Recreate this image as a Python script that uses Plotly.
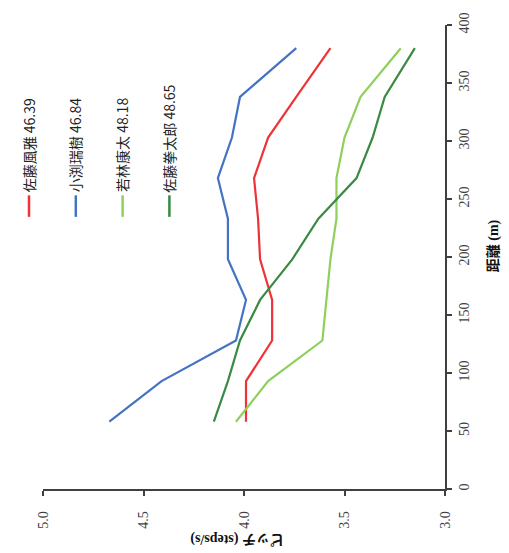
import plotly.graph_objects as go

# ---- data ----
distance_m = [58, 93, 128, 163, 198, 233, 268, 303, 338, 380]
series_names = ["佐藤風雅 46.39", "小渕瑞樹 46.84", "若林康太 48.18", "佐藤拳太郎 48.65"]
pitch_sato_fuga = [3.99, 3.99, 3.86, 3.86, 3.92, 3.93, 3.95, 3.88, 3.74, 3.57]
pitch_obuchi = [4.67, 4.41, 4.04, 3.99, 4.08, 4.08, 4.13, 4.06, 4.02, 3.74]
pitch_wakabayashi = [4.04, 3.88, 3.61, 3.59, 3.57, 3.54, 3.54, 3.50, 3.42, 3.22]
pitch_sato_kentaro = [4.15, 4.08, 4.02, 3.92, 3.76, 3.63, 3.44, 3.36, 3.30, 3.15]
pitch_ticks = [5.0, 4.5, 4.0, 3.5, 3.0]
distance_ticks = [0, 50, 100, 150, 200, 250, 300, 350, 400]

series_values = [pitch_sato_fuga, pitch_obuchi, pitch_wakabayashi, pitch_sato_kentaro]
colors = ["#EE3338", "#4472C4", "#8FCF5C", "#3A8A42"]

W, H = 509, 553
ML, MR, MT, MB = 43, 64, 15, 64
PW, PH = W - ML - MR, H - MT - MB

def px_x(px):
    return (px - ML) / PW

def px_y(py):
    return (H - MB - py) / PH

axis_color = "#404040"
serif = "Liberation Serif, Noto Sans CJK JP"

fig = go.Figure()
for name, vals, c in zip(series_names, series_values, colors):
    fig.add_trace(go.Scatter(x=vals, y=distance_m, mode="lines", name=name,
                             line=dict(color=c, width=2.2), showlegend=False))

# rotated legend (text reads bottom-to-top)
for i, (name, c) in enumerate(zip(series_names, colors)):
    xp = 29 + 46.8 * i
    fig.add_shape(type="line", xref="paper", yref="paper",
                  x0=px_x(xp), x1=px_x(xp), y0=px_y(189), y1=px_y(211),
                  line=dict(color=c, width=2.5))
    fig.add_annotation(text=name, xref="paper", yref="paper",
                       x=px_x(xp), y=px_y(188), xanchor="center", yanchor="bottom",
                       textangle=-90, showarrow=False,
                       font=dict(family="Noto Sans CJK JP", size=14, color="#222222"))

# axis titles (rotated)
fig.add_annotation(text="<b>ピッチ (steps/s)</b>", xref="paper", yref="paper",
                   x=px_x(237), y=px_y(540), xanchor="center", yanchor="middle",
                   textangle=180, showarrow=False,
                   font=dict(family=serif, size=14, color="#111111"))
fig.add_annotation(text="<b>距離 (m)</b>", xref="paper", yref="paper",
                   x=px_x(493), y=px_y(240), xanchor="center", yanchor="middle",
                   textangle=-90, showarrow=False,
                   font=dict(family=serif, size=14, color="#111111"))

fig.update_layout(
    width=W, height=H,
    margin=dict(l=ML, r=MR, t=MT, b=MB, pad=0),
    paper_bgcolor="white", plot_bgcolor="white",
    showlegend=False,
    xaxis=dict(range=[5.0, 3.0], tickvals=pitch_ticks,
               ticktext=[f"{v:.1f}" for v in pitch_ticks],
               showgrid=False, zeroline=False, showline=True,
               linecolor=axis_color, linewidth=1.5,
               ticks="outside", ticklen=5, tickcolor=axis_color, tickwidth=1.5,
               tickangle=-90, ticklabelstandoff=10,
               tickfont=dict(family=serif, size=14, color="#404040")),
    yaxis=dict(range=[0, 400], tickvals=distance_ticks, side="right",
               showgrid=False, zeroline=False, showline=True,
               linecolor=axis_color, linewidth=1.5,
               ticks="outside", ticklen=5, tickcolor=axis_color, tickwidth=1.5,
               tickangle=-90, ticklabelstandoff=0,
               tickfont=dict(family=serif, size=14, color="#404040")),
)

fig.write_html("out.html", config={"displayModeBar": False},
               post_script="document.body.style.margin='0';document.body.style.overflow='hidden';")
